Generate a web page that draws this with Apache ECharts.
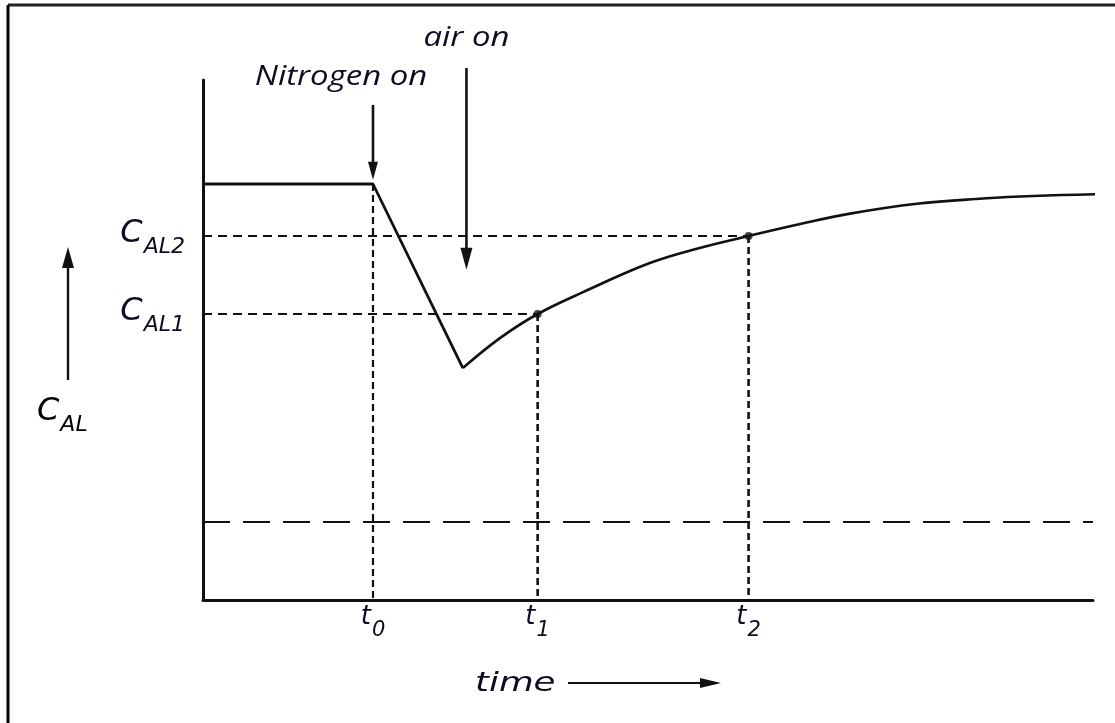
<!DOCTYPE html>
<html><head><meta charset="utf-8">
<script src="https://cdn.jsdelivr.net/npm/echarts@6/dist/echarts.min.js"></script>
<style>html,body{margin:0;padding:0;background:#fff}#c{width:1115px;height:723px}</style>
</head><body><div id="c"></div>
<script>
// ---- data (schematic values, arbitrary units) ----
const plateauAndDrop = [[0, 80], [19.1, 80], [29.2, 44.6]];
const recoveryCurve = [[29.2, 44.6], [33.4, 50.4], [37.6, 55], [42.7, 59.2], [50.2, 64.8], [55.8, 67.7], [61.3, 70], [67.1, 72.3], [72.7, 74.3], [80.2, 76.2], [87.6, 77.2], [93.3, 77.7], [102.1, 78.1]];
const timeTicks = [19.1, 37.6, 61.3];
const timeSubs = ['0', '1', '2'];
const levelTicks = [55, 70];
const levelSubs = ['AL1', 'AL2'];
const baselineLevel = 15;
const eventNames = ['Nitrogen on', 'air on'];
const eventX = [19.1, 29.6];
const eventTop = [95.2, 102.3];
const eventTip = [80.8, 63.5];

const ink = '#111111';
const txt = '#0c0c22';
const dv = {fontFamily: 'DejaVu Sans', fontStyle: 'italic', color: txt};
function richFor(big, small, pad) {
  return {
    m: Object.assign({fontSize: big, lineHeight: big + 4, verticalAlign: 'top'}, dv),
    s: Object.assign({fontSize: small, lineHeight: small + 2, padding: [pad, 0, 0, 1], verticalAlign: 'top'}, dv)
  };
}

const t1 = [timeTicks[1], levelTicks[0]];
const t2 = [timeTicks[2], levelTicks[1]];

const chart = echarts.init(document.getElementById('c'));
const dashed = (data, dash, w) => ({
  type: 'line', data: data, symbol: 'none', silent: true, z: 1,
  lineStyle: {color: ink, width: w, type: dash}
});

chart.setOption({
  animation: false,
  backgroundColor: '#ffffff',
  grid: {left: 203, right: 22, top: 80, bottom: 123, containLabel: false},
  xAxis: {
    type: 'value', min: 0, max: 100,
    axisLine: {show: true, onZero: false, lineStyle: {color: ink, width: 3}},
    axisTick: {show: false}, splitLine: {show: false},
    axisLabel: {
      customValues: timeTicks, margin: 4,
      formatter: v => '{m|t}{s|' + timeSubs[timeTicks.indexOf(v)] + '}',
      rich: richFor(26, 21, 16)
    }
  },
  yAxis: {
    type: 'value', min: 0, max: 100,
    axisLine: {show: true, onZero: false, lineStyle: {color: ink, width: 3}},
    axisTick: {show: false}, splitLine: {show: false},
    axisLabel: {
      customValues: levelTicks, margin: 18,
      formatter: v => '{m|C}{s|' + levelSubs[levelTicks.indexOf(v)] + '}',
      rich: richFor(32, 22, 18)
    }
  },
  series: [
    dashed([[timeTicks[0], plateauAndDrop[0][1]], [timeTicks[0], 0]], [7, 4], 2.2),
    dashed([t1, [timeTicks[1], 0]], [7, 4], 2.6),
    dashed([t2, [timeTicks[2], 0]], [7, 4], 2.6),
    dashed([[0, levelTicks[0]], t1], [9, 6], 2),
    dashed([[0, levelTicks[1]], t2], [9, 6], 2),
    dashed([[0, baselineLevel], [100, baselineLevel]], [27, 13], 2),
    {
      type: 'line', data: plateauAndDrop, symbol: 'none', silent: true, z: 3,
      lineStyle: {color: ink, width: 2.8}
    },
    {
      type: 'line', data: recoveryCurve, symbol: 'none', smooth: 0.4, clip: false, silent: true, z: 3,
      lineStyle: {color: ink, width: 2.6}
    },
    {
      type: 'scatter', data: [t1, t2], symbolSize: 8, silent: true, z: 4,
      itemStyle: {color: ink}
    }
  ]
});

// annotation arrows placed through the chart's own scales
const g = [];
function arrowDown(x, yTop, yTip, hw, hl) {
  g.push({type: 'line', shape: {x1: x, y1: yTop, x2: x, y2: yTip - hl + 2}, style: {stroke: ink, lineWidth: 2.6}});
  g.push({type: 'polygon', shape: {points: [[x - hw, yTip - hl], [x + hw, yTip - hl], [x, yTip]]}, style: {fill: ink}});
}
eventX.forEach((ex, i) => {
  const top = chart.convertToPixel({gridIndex: 0}, [ex, eventTop[i]]);
  const tip = chart.convertToPixel({gridIndex: 0}, [ex, eventTip[i]]);
  arrowDown(top[0], top[1], tip[1], i === 0 ? 5 : 6, i === 0 ? 18 : 22);
  const lx = i === 0 ? top[0] - 32 : top[0];
  const ly = i === 0 ? top[1] - 28 : top[1] - 30;
  g.push({
    type: 'text', x: lx, y: ly, scaleX: 1.22,
    style: {text: eventNames[i], x: 0, y: 0, align: 'center', verticalAlign: 'middle',
      fontFamily: 'Open Sans', fontStyle: 'italic', fontSize: 27, fill: txt}
  });
});

// frame
g.push({type: 'line', shape: {x1: 8, y1: 5, x2: 1115, y2: 5}, style: {stroke: '#222', lineWidth: 3}});
g.push({type: 'line', shape: {x1: 8, y1: 5, x2: 8, y2: 723}, style: {stroke: '#000', lineWidth: 3}});

// axis titles
g.push({
  type: 'text', x: 475, y: 684, scaleX: 1.32,
  style: {text: 'time', x: 0, y: 0, align: 'left', verticalAlign: 'middle',
    fontFamily: 'DejaVu Sans', fontStyle: 'italic', fontSize: 27, fill: txt}
});
g.push({type: 'line', shape: {x1: 568, y1: 683, x2: 702, y2: 683}, style: {stroke: ink, lineWidth: 2}});
g.push({type: 'polygon', shape: {points: [[700, 678], [700, 688], [721, 683]]}, style: {fill: ink}});

g.push({
  type: 'text', x: 37, y: 396,
  style: {text: '{m|C}{s|AL}', x: 0, y: 0, align: 'left', verticalAlign: 'top', rich: richFor(32, 22, 18)}
});
g.push({type: 'line', shape: {x1: 68, y1: 380, x2: 68, y2: 262}, style: {stroke: ink, lineWidth: 2.4}});
g.push({type: 'polygon', shape: {points: [[62, 268], [74, 268], [68, 247]]}, style: {fill: ink}});

chart.setOption({graphic: {elements: g}});
</script>
</body></html>
